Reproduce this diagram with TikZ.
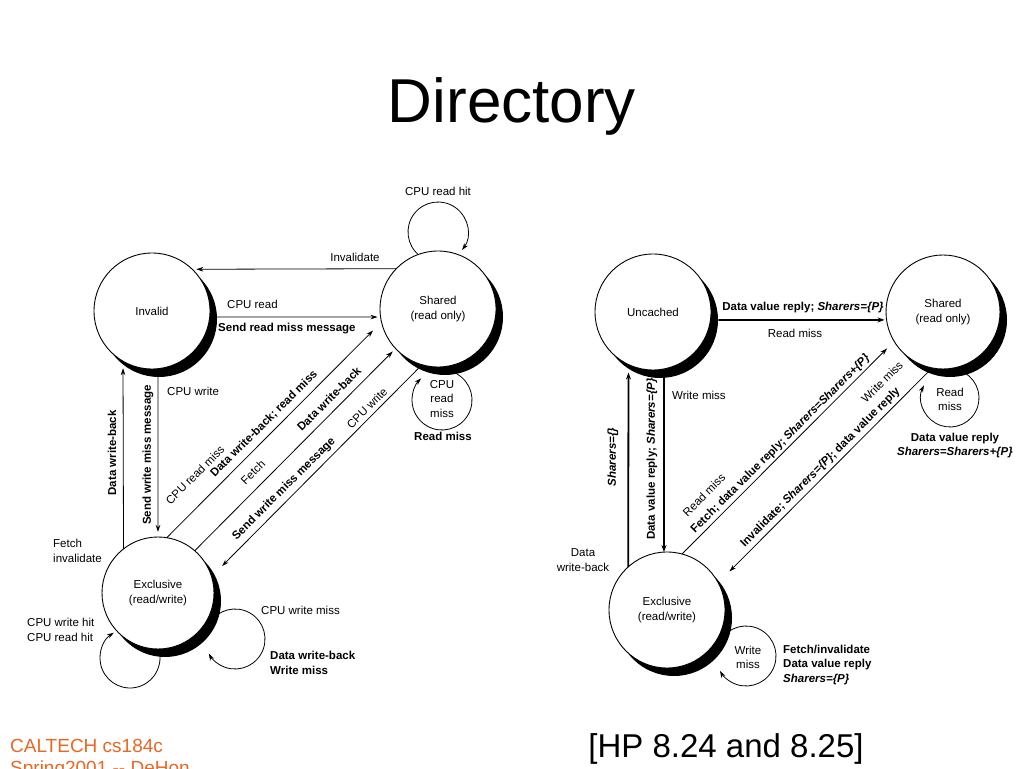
\documentclass[tikz,border=0pt]{standalone}
\usepackage{fontspec}
\setmainfont{Liberation Sans}
\usetikzlibrary{arrows.meta,shadows,calc,backgrounds}
\definecolor{footer}{RGB}{232,104,36}
\begin{document}
\begin{tikzpicture}[x=1pt,y=1pt,
  lbl/.style={font=\fontsize{11.5}{14.5}\selectfont, inner sep=0pt, align=center},
  state/.style={circle, draw, fill=white, line width=0.9pt, inner sep=0pt, outer sep=0pt,
    font=\fontsize{11.5}{14.5}\selectfont, align=center,
    drop shadow={shadow xshift=7pt, shadow yshift=-8pt, fill=black, opacity=1}},
  arr/.style={-{Stealth[length=7pt,width=4.5pt]}, line width=0.8pt},
  tarr/.style={-{Stealth[length=7pt,width=5pt]}, line width=1.8pt},
]
\useasboundingbox (0,0) rectangle (1024,768);

% ---------- states ----------
\node[state, minimum size=116pt] (inv) at (152,457) {Invalid};
\node[state, minimum size=116pt] (sh)  at (438,459) {Shared\\(read only)};
\node[state, minimum size=112pt] (ex)  at (158,175) {Exclusive\\(read/write)};
\node[state, minimum size=116pt] (un)  at (653,456) {Uncached};
\node[state, minimum size=114pt] (sh2) at (943,456) {Shared\\(read only)};
\node[state, minimum size=116pt] (ex2) at (667,158) {Exclusive\\(read/write)};

% ---------- self loops (behind the states) ----------
\begin{scope}[on background layer]
  \fill[white] (0,0) rectangle (1024,768);
  \draw[arr] ($(sh)+(0,77)$) ++(232:30) arc[start angle=232, end angle=-37, radius=30];
  \draw[arr] ($(sh)+(4,-91)$) ++(60:30) arc[start angle=60, end angle=-226, radius=30];
  \draw[arr] ($(ex)+(-28,-65)$) ++(10:30) arc[start angle=10, end angle=-237.4, radius=30];
  \draw[arr] ($(ex)+(77,-46)$) ++(150:30) arc[start angle=150, end angle=-151, radius=30];
  \draw[arr] ($(sh2)+(7,-86)$) ++(60:29) arc[start angle=60, end angle=-206, radius=29];
  \draw[arr] ($(ex2)+(79,-46)$) ++(150:30) arc[start angle=150, end angle=-150.3, radius=30];
\end{scope}

% ---------- left diagram edges ----------
\draw[arr, shorten >=4pt] (sh.136.4) -- (inv.46.4);
\draw[arr, shorten <=7pt, shorten >=3pt] (inv.-6) -- (sh.188);
\draw[arr, shorten >=7pt] (ex.128.7) -- (inv.-120);
\draw[arr, shorten <=8pt, shorten >=5pt] (inv.-84) -- (ex.90);
\draw[arr, shorten >=12pt] (ex.81.4) -- (sh.193.4);
\draw[arr, shorten >=4pt] (ex.49.3) -- (sh.223.6);
\draw[arr, shorten <=5pt, shorten >=15pt] (sh.254.6) -- (ex.17.6);

% ---------- right diagram edges ----------
\draw[tarr, shorten <=8pt, shorten >=2pt] (un.-8) -- (sh2.188);
\draw[tarr, shorten >=8pt] (ex2.132.3) -- (un.-115.5);
\draw[tarr, shorten <=9pt] (un.-79) -- (ex2.93);
\draw[arr, shorten >=10pt] (ex2.75) -- (sh2.211.4);
\draw[arr, shorten <=5pt, shorten >=16pt] (sh2.259.8) -- (ex2.28);

% ---------- left diagram labels ----------
\node[lbl] (a1) at (438,577) {CPU read hit};
\node[lbl] (a2) at (355,511) {Invalidate};
\node[lbl, anchor=west] (a3) at (227,464) {CPU read};
\node[lbl, anchor=west] (a4) at (218,439) {\textbf{Send read miss message}};
\node[lbl, anchor=west] (a5) at (167,377) {CPU write};
\node[lbl, rotate=90] (a6) at (112,315) {\textbf{Data write-back}};
\node[lbl, rotate=90] (a7) at (148,313) {\textbf{Send write miss message}};
\node[lbl, rotate=45] (a8) at (195,293) {CPU read miss};
\node[lbl, rotate=45] (a9) at (264,344) {\textbf{Data write-back; read miss}};
\node[lbl, rotate=45] (a10) at (253,296) {Fetch};
\node[lbl, rotate=45] (a11) at (329,369) {\textbf{Data write-back}};
\node[lbl, rotate=45] (a12) at (367,360) {CPU write};
\node[lbl, rotate=45] (a13) at (284,279) {\textbf{Send write miss message}};
\node[lbl] (a14) at (442,369) {CPU\\read\\miss};
\node[lbl] (a15) at (443,332) {\textbf{Read miss}};
\node[lbl, anchor=west, align=left] (a16) at (53,217) {Fetch\\invalidate};
\node[lbl, anchor=west, align=left] (a17) at (27,138) {CPU write hit\\CPU read hit};
\node[lbl, anchor=west] (a18) at (261,158) {CPU write miss};
\node[lbl, anchor=west, align=left] (a19) at (270,105) {\textbf{Data write-back}\\\textbf{Write miss}};

% ---------- right diagram labels ----------
\node[lbl] (b1) at (803,460) {\textbf{Data value reply; \textit{Sharers=\{P\}}}};
\node[lbl] (b2) at (795,435) {Read miss};
\node[lbl, rotate=90] (b3) at (613,311) {\textbf{\textit{Sharers=\{\}}}};
\node[lbl, rotate=90] (b4) at (652,309) {\textbf{Data value reply; \textit{Sharers=\{P\}}}};
\node[lbl, anchor=west] (b5) at (672,373) {Write miss};
\node[lbl, rotate=45] (b6) at (704,273) {Read miss};
\node[lbl, rotate=45] (b7) at (780.5,324) {\textbf{Fetch; data value reply; \textit{Sharers=Sharers+\{P\}}}};
\node[lbl, rotate=45] (b8) at (882,386) {Write miss};
\node[lbl, rotate=45] (b9) at (820.5,300.5) {\textbf{Invalidate; \textit{Sharers=\{P\}}; data value reply}};
\node[lbl] (b10) at (583,208) {Data\\write-back};
\node[lbl] (b11) at (950,368.5) {Read\\miss};
\node[lbl] (b12) at (955,322.5) {\textbf{Data value reply}\\\textbf{\textit{Sharers=Sharers+\{P\}}}};
\node[lbl] (b13) at (748,110.5) {Write\\miss};
\node[lbl, anchor=west, align=left] (b14) at (783,103) {\textbf{Fetch/invalidate}\\\textbf{Data value reply}\\\textbf{\textit{Sharers=\{P\}}}};

% ---------- title and footer ----------
\node[font=\fontsize{62}{70}\selectfont, inner sep=0pt, anchor=base] (title) at (512,645) {Directory};
\node[font=\fontsize{33}{38}\selectfont, inner sep=0pt, anchor=base] (ref) at (726,11) {[HP 8.24 and 8.25]};
\node[font=\fontsize{19}{22}\selectfont, text=footer, inner sep=0pt, anchor=base west] (f1) at (10,16) {CALTECH cs184c};
\node[font=\fontsize{19}{22}\selectfont, text=footer, inner sep=0pt, anchor=base west] (f2) at (10,-6) {Spring2001 -{}- DeHon};
\end{tikzpicture}
\end{document}
